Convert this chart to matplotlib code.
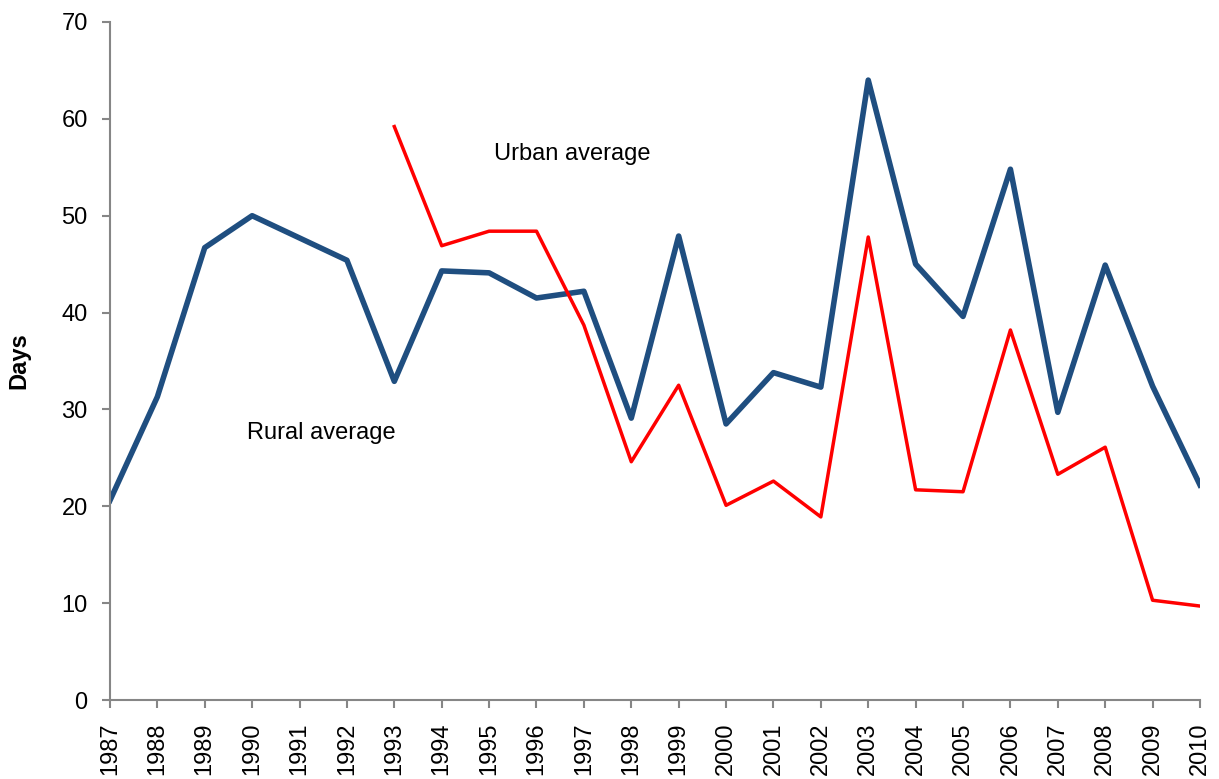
import matplotlib
matplotlib.use("Agg")
import matplotlib.pyplot as plt

years = list(range(1987, 2011))
rural = [20.6, 31.3, 46.7, 50.0, 47.7, 45.4, 32.9, 44.3, 44.1, 41.5, 42.2, 29.1,
         47.9, 28.5, 33.8, 32.3, 64.0, 45.0, 39.6, 54.8, 29.7, 44.9, 32.4, 22.2]
urban_years = list(range(1993, 2011))
urban = [59.2, 46.9, 48.4, 48.4, 38.7, 24.6, 32.5, 20.1, 22.6, 18.9, 47.8,
         21.7, 21.5, 38.2, 23.3, 26.1, 10.3, 9.7]

BLUE = "#1f4e80"
RED = "#ff0000"
GREY = "#868686"

plt.rcParams["font.family"] = ["Liberation Sans", "DejaVu Sans"]

fig = plt.figure(figsize=(12.19, 7.79), dpi=100)
ax = fig.add_axes([0.0902, 0.1014, 0.8942, 0.8704])
ax.plot(years, rural, color=BLUE, lw=4, solid_joinstyle="round")
ax.plot(urban_years, urban, color=RED, lw=2.5, solid_joinstyle="round")

ax.text(1995.1, 56.4, "Urban average", fontsize=17, va="center")
ax.text(1989.9, 27.6, "Rural average", fontsize=17, va="center")

ax.set_xlim(1987, 2010)
ax.set_ylim(0, 70)
ax.set_yticks(range(0, 71, 10))
ax.set_xticks(years)
ax.set_xticklabels([str(y) for y in years], rotation=90, fontsize=17)
ax.tick_params(axis="y", labelsize=17, length=6, width=1.5, color=GREY, pad=10)
ax.tick_params(axis="x", length=6, width=1.5, color=GREY, pad=10)
ax.set_ylabel("Days", fontsize=17, fontweight="bold", labelpad=22)
for s in ["top", "right"]:
    ax.spines[s].set_visible(False)
for s in ["left", "bottom"]:
    ax.spines[s].set_color(GREY)
    ax.spines[s].set_linewidth(1.5)

fig.savefig("out.png", dpi=100)
